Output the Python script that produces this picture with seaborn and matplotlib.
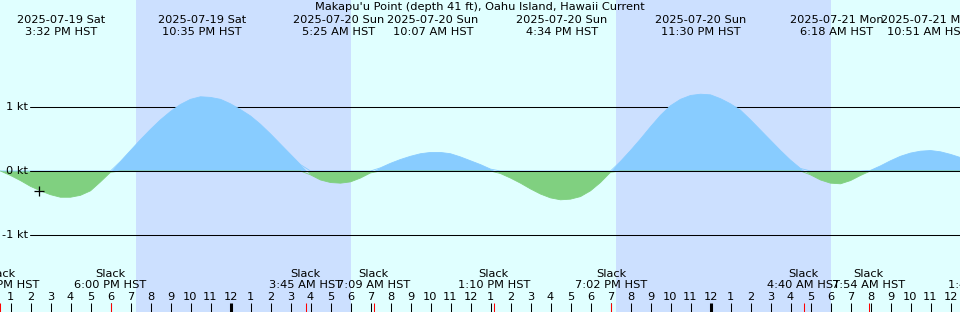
import numpy as np
import pandas as pd
import matplotlib
matplotlib.use("Agg")
import matplotlib.pyplot as plt
import matplotlib.transforms as mtransforms
import seaborn as sns
from datetime import datetime

sns.set_style("white")
plt.rcParams['font.family'] = ['DejaVu Sans']
plt.rcParams['text.color'] = 'black'

# ---------------- data ----------------
title = "Makapu'u Point (depth 41 ft), Oahu Island, Hawaii Current"
base_time = datetime(2025, 7, 20, 0, 0)

# half-hourly current speed (kt), starting 2025-07-19 12:30 PM HST
start_hour = -11.5
step_hour = 0.5
current_kt = [
    0.00, -0.07, -0.15, -0.24, -0.31, -0.37, -0.41, -0.41, -0.38, -0.31, -0.17, -0.02,
    0.15, 0.32, 0.49, 0.65, 0.80, 0.93, 1.04, 1.12, 1.16, 1.15, 1.12, 1.05, 0.96, 0.86,
    0.73, 0.58, 0.42, 0.26, 0.10,
    -0.06, -0.14, -0.18, -0.19, -0.17, -0.11, -0.03,
    0.05, 0.12, 0.18, 0.23, 0.27, 0.29, 0.29, 0.27, 0.22, 0.16, 0.10, 0.03,
    -0.04, -0.11, -0.19, -0.28, -0.36, -0.42, -0.45, -0.44, -0.40, -0.31, -0.18, -0.02,
    0.15, 0.32, 0.50, 0.69, 0.87, 1.02, 1.12, 1.18, 1.20, 1.19, 1.13, 1.05, 0.95, 0.80,
    0.64, 0.48, 0.32, 0.17, 0.04,
    -0.06, -0.14, -0.19, -0.20, -0.15, -0.07,
    0.01, 0.08, 0.16, 0.23, 0.28, 0.31, 0.32, 0.30, 0.26, 0.21,
]

# max flood / ebb events
event_dates = ["2025-07-19 Sat", "2025-07-19 Sat", "2025-07-20 Sun", "2025-07-20 Sun",
               "2025-07-20 Sun", "2025-07-20 Sun", "2025-07-21 Mon", "2025-07-21 Mon"]
event_times = ["3:32 PM", "10:35 PM", "5:25 AM", "10:07 AM",
               "4:34 PM", "11:30 PM", "6:18 AM", "10:51 AM"]

# slack water events
slack_dates = ["2025-07-19", "2025-07-19", "2025-07-20", "2025-07-20", "2025-07-20",
               "2025-07-20", "2025-07-21", "2025-07-21", "2025-07-21"]
slack_times = ["12:29 PM", "6:00 PM", "3:45 AM", "7:09 AM", "1:10 PM",
               "7:02 PM", "4:40 AM", "7:54 AM", "1:40 PM"]

# night periods (sunset -> sunrise)
night_start = ["2025-07-19 7:16 PM", "2025-07-20 7:16 PM"]
night_end = ["2025-07-20 6:01 AM", "2025-07-21 6:01 AM"]

# current-time marker
now_time = "2025-07-19 2:24 PM"
now_value = -0.31

y_levels = [1, 0, -1]
y_labels = ["1 kt", "0 kt", "-1 kt"]

# ---------------- helpers ----------------
def to_hours(s):
    dt = datetime.strptime(s, "%Y-%m-%d %I:%M %p")
    return (dt - base_time).total_seconds() / 3600.0

W, H = 960, 312
px_per_hour = 20.0
mid_px = 230.5
px_per_kt = 64.0
zero_py = 171.0
FS = 8.2

xmin = -mid_px / px_per_hour
xmax = (W - mid_px) / px_per_hour
ymax = zero_py / px_per_kt
ymin = -(H - zero_py) / px_per_kt

hours = start_hour + step_hour * np.arange(len(current_kt))
df = pd.DataFrame({"hour": hours, "kt": current_kt})
df["pos"] = df["kt"].clip(lower=0)
df["neg"] = df["kt"].clip(upper=0)

BLUE = "#88ccff"
GREEN = "#80d080"
DAY = "#e0ffff"
NIGHT = "#cce0ff"
TXT = "black"

fig = plt.figure(figsize=(W / 100, H / 100), dpi=100)
fig.patch.set_facecolor(DAY)
ax = fig.add_axes([0, 0, 1, 1])
ax.set_facecolor(DAY)
ax.set_xlim(xmin, xmax)
ax.set_ylim(ymin, ymax)
ax.axis("off")

trans = mtransforms.blended_transform_factory(ax.transData, fig.transFigure)

def fy(py):
    return 1 - py / H

# night shading
for s, e in zip(night_start, night_end):
    ax.axvspan(to_hours(s), to_hours(e), color=NIGHT, lw=0, zorder=0)

# +/-1 kt grid lines
for lv in (1, -1):
    ax.axhline(lv, xmin=30 / W, xmax=1, color="black", lw=0.75, zorder=1)

# fills
ax.fill_between(df["hour"], df["kt"], 0, where=df["kt"] >= 0, interpolate=True,
                color=BLUE, lw=0, zorder=2)
ax.fill_between(df["hour"], df["kt"], 0, where=df["kt"] <= 0, interpolate=True,
                color=GREEN, lw=0, zorder=2)
sns.lineplot(data=df, x="hour", y="pos", color=BLUE, lw=0.6, estimator=None,
             ax=ax, zorder=2)
sns.lineplot(data=df, x="hour", y="neg", color=GREEN, lw=0.6, estimator=None,
             ax=ax, zorder=2)
ax.set_xlim(xmin, xmax)
ax.set_ylim(ymin, ymax)
ax.axis("off")

# zero line on top
ax.axhline(0, xmin=30 / W, xmax=1, color="black", lw=0.75, zorder=3)

# level labels
for lv, lab in zip(y_levels, y_labels):
    ax.text(xmin + 28 / px_per_hour, lv, lab, ha="right", va="center",
            fontsize=FS, color=TXT, zorder=5)

# current marker
sns.scatterplot(x=[to_hours(now_time)], y=[now_value], marker="+", s=55,
                color="black", linewidth=0.9, ax=ax, zorder=6)

# title
fig.text(0.5, fy(7.5), title, ha="center", va="center", fontsize=FS, color=TXT)

# event labels (top)
for d, t in zip(event_dates, event_times):
    x = to_hours(d.split(" ")[0] + " " + t)
    ax.text(x, fy(20), d, transform=trans, ha="center", va="center", fontsize=FS,
            color=TXT)
    ax.text(x, fy(32), t + " HST", transform=trans, ha="center", va="center",
            fontsize=FS, color=TXT)

# hour ticks and labels (bottom)
for h in range(int(np.ceil(xmin)), int(np.floor(xmax)) + 1):
    lab = h % 12
    lab = 12 if lab == 0 else lab
    ax.text(h, fy(297.5), str(lab), transform=trans, ha="center", va="center",
            fontsize=FS, color=TXT)
    midnight = (h % 24 == 0)
    ax.plot([h, h], [fy(303), fy(312)], transform=trans, color="black",
            lw=2.2 if midnight else 0.75, solid_capstyle="butt", zorder=4)

# slack labels and red ticks
for d, t in zip(slack_dates, slack_times):
    x = to_hours(d + " " + t)
    ax.text(x, fy(274), "Slack", transform=trans, ha="center", va="center",
            fontsize=FS, color=TXT)
    ax.text(x, fy(285.5), t + " HST", transform=trans, ha="center", va="center",
            fontsize=FS, color=TXT)
    ax.plot([x, x], [fy(303), fy(312)], transform=trans, color="red", lw=0.75,
            solid_capstyle="butt", zorder=5)

fig.savefig("out.png", dpi=100, facecolor=DAY)
